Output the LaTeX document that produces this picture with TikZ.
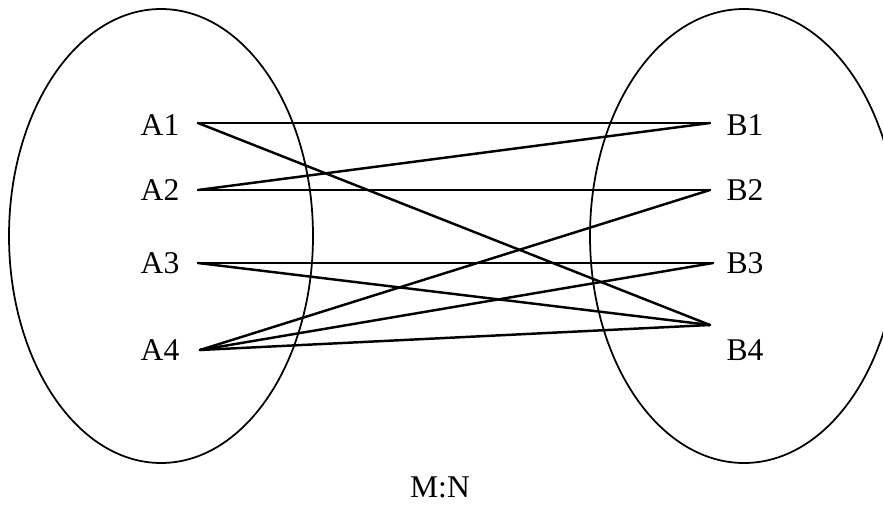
\documentclass[tikz,border=0pt]{standalone}
\usepackage{fontspec}
\setmainfont{Liberation Serif}
\begin{document}
\begin{tikzpicture}[x=.02cm,y=-.02cm,line join=round,line cap=round,
	lbl/.style={font=\fontsize{18}{20}\selectfont,inner sep=0pt},
	link/.style={line width=1.4pt},
	set/.style={line width=1pt}]
	\useasboundingbox (0,0) rectangle (883,507);
	\clip (0,0) rectangle (883,507);
	\def\lx{198} \def\rx{710}
	\draw[set] (161,236) ellipse [x radius=152, y radius=227];
	\draw[set] (744,236) ellipse [x radius=154, y radius=227];
	\foreach \i/\y in {1/125,2/190,3/263,4/350}{
		\node[lbl] (A\i) at (160,\y) {A\i};
		\node[lbl] (B\i) at (745,\y) {B\i};
	}
	\coordinate (a1) at (\lx,123);
	\coordinate (a2) at (\lx,190);
	\coordinate (a3) at (\lx,263);
	\coordinate (a4) at (\lx+2,350);
	\coordinate (b1) at (\rx,123);
	\coordinate (b2) at (\rx,190);
	\coordinate (b3) at (\rx+3,263);
	\coordinate (b4) at (\rx,325);
	\foreach \a/\b in {a1/b1,a1/b4,a2/b1,a2/b2,a3/b3,a3/b4,a4/b2,a4/b3,a4/b4}
		\draw[link] (\a)--(\b);
	\node[lbl] (mn) at (440,487) {M:N};
\end{tikzpicture}
\end{document}
